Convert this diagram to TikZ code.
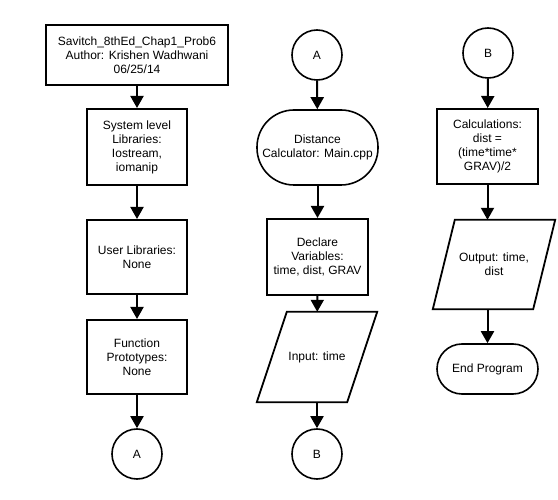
\documentclass[tikz,border=0pt]{standalone}
\usepackage{fontspec}
\setmainfont{Liberation Sans}
\usetikzlibrary{arrows.meta}

\tikzset{
  box/.style={draw, line width=2pt, align=center, inner sep=2pt},
  term/.style={draw, line width=1.6pt, rounded corners=#1, align=center, inner sep=1pt},
  conn/.style={draw, circle, line width=1.6pt, minimum size=50pt, inner sep=0pt},
  io/.style={align=center, inner sep=1pt},
  ioline/.style={line width=1.8pt, line join=miter},
  arr/.style={line width=2pt, -{Triangle[width=13pt,length=12pt]}}
}

\begin{document}
\begin{tikzpicture}[x=1pt, y=-1pt, font=\fontsize{12}{14}\selectfont]
      \useasboundingbox (0,0) rectangle (558,500);
      % left column
      \node[box, minimum width=182pt, minimum height=60pt] (head) at (137,55)
        {Savitch\_8thEd\_Chap1\_Prob6\\Author: Krishen Wadhwani\\06/25/14};
      \node[box, minimum width=100pt, minimum height=76pt] (syslib) at (137,147)
        {System level\\Libraries:\\Iostream,\\iomanip};
      \node[box, minimum width=100pt, minimum height=74pt] (userlib) at (137,257)
        {User Libraries:\\None};
      \node[box, minimum width=100pt, minimum height=74pt] (proto) at (137,357)
        {Function\\Prototypes:\\None};
      \node[conn] (outA) at (137,454) {A};
      \draw[arr] (head) -- (syslib);
      \draw[arr] (syslib) -- (userlib);
      \draw[arr] (userlib) -- (proto);
      \draw[arr] (proto) -- (outA);
      % middle column
      \node[conn] (inA) at (317,55) {A};
      \node[term=37pt, minimum width=121pt, minimum height=75pt] (main) at (317.5,147.5)
        {Distance\\Calculator: Main.cpp};
      \node[box, minimum width=101pt, minimum height=76pt] (decl) at (317.5,257)
        {Declare\\Variables:\\time, dist, GRAV};
      \node[io, minimum width=90pt, minimum height=90pt] (input) at (317,357)
        {Input: time};
      \draw[ioline] ([xshift=-15pt]input.south west) -- ([xshift=15pt]input.north west)
        -- ([xshift=15pt]input.north east) -- ([xshift=-15pt]input.south east) -- cycle;
      \node[conn] (outB) at (317,454) {B};
      \draw[arr] (inA) -- (main);
      \draw[arr] (main) -- (decl);
      \draw[arr] (decl) -- (input);
      \draw[arr] (input) -- (outB);
      % right column
      \node[conn] (inB) at (488,53) {B};
      \node[box, minimum width=101pt, minimum height=75pt] (calc) at (487.5,146.5)
        {Calculations:\\dist =\\(time*time*\\GRAV)/2};
      \node[io, minimum width=100pt, minimum height=89pt] (output) at (494,264.5)
        {Output: time,\\dist};
      \draw[ioline] ([xshift=-11pt]output.south west) -- ([xshift=11pt]output.north west)
        -- ([xshift=11pt]output.north east) -- ([xshift=-11pt]output.south east) -- cycle;
      \node[term=25pt, minimum width=101pt, minimum height=50pt] (stop) at (487.5,369)
        {End Program};
      \draw[arr] (inB) -- (calc);
      \draw[arr] (calc) -- (output.north -| calc);
      \draw[arr] (output.south -| stop) -- (stop);
\end{tikzpicture}
\end{document}
